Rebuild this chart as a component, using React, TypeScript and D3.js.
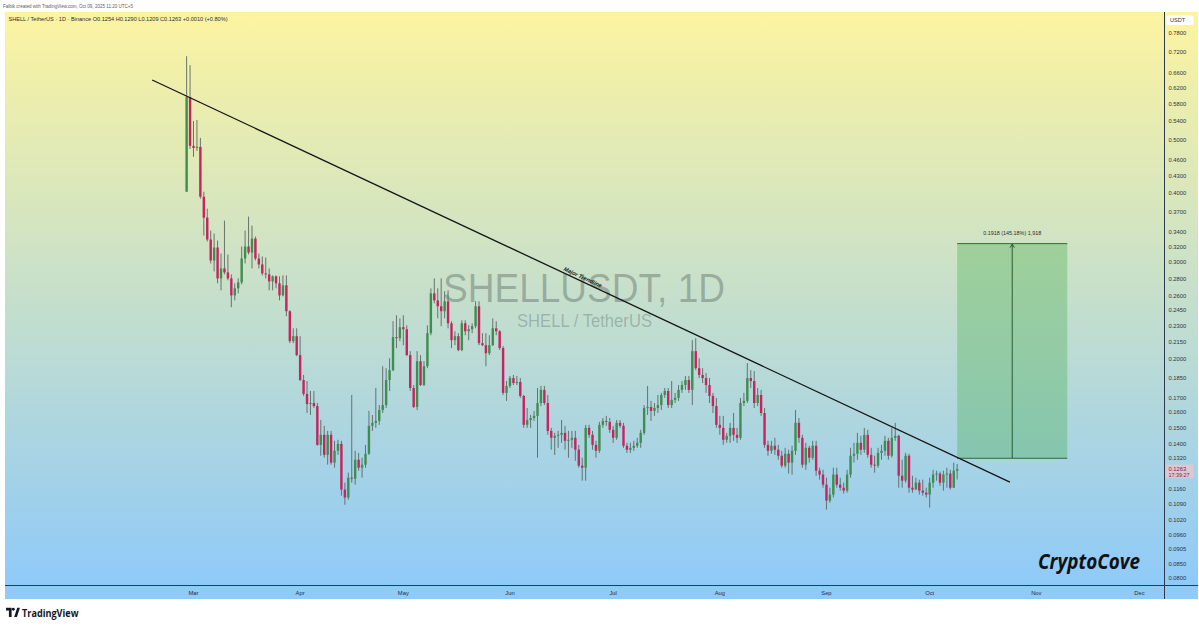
import React from "react";
import * as d3 from "d3";

// ---- data (daily candles, SHELL/USDT, Binance) ----
const firstCandleDate = "2025-02-27T00:00:00Z";
const firstOpen = 0.4023;
const closes = [
  0.5976, 0.4873, 0.4832, 0.4853, 0.3941, 0.3611, 0.3295, 0.3019, 0.3187, 0.2801,
  0.2920, 0.2872, 0.2801, 0.2609, 0.2687, 0.2755, 0.3044, 0.3200, 0.3121, 0.3308,
  0.3044, 0.2969, 0.2860, 0.2848, 0.2766, 0.2825, 0.2744, 0.2609, 0.2721, 0.2442,
  0.2155, 0.2200, 0.2033, 0.1832, 0.1729, 0.1657, 0.1664, 0.1643, 0.1397, 0.1457,
  0.1340, 0.1457, 0.1297, 0.1363, 0.1403, 0.1159, 0.1121, 0.1218, 0.1213, 0.1313,
  0.1270, 0.1286, 0.1346, 0.1513, 0.1532, 0.1544, 0.1616, 0.1650, 0.1832, 0.1909,
  0.2191, 0.2182, 0.2284, 0.2265, 0.2033, 0.1772, 0.1637, 0.1982, 0.1794, 0.1941,
  0.2228, 0.2631, 0.2555, 0.2493, 0.2442, 0.2545, 0.2322, 0.2164, 0.2200, 0.2076,
  0.2322, 0.2246, 0.2265, 0.2294, 0.2493, 0.2137, 0.2119, 0.2049, 0.2119, 0.2274,
  0.2246, 0.2093, 0.1736, 0.1787, 0.1847, 0.1809, 0.1817, 0.1714, 0.1519, 0.1550,
  0.1563, 0.1577, 0.1664, 0.1758, 0.1664, 0.1481, 0.1439, 0.1451, 0.1457, 0.1469,
  0.1421, 0.1427, 0.1439, 0.1369, 0.1281, 0.1270, 0.1500, 0.1457, 0.1397, 0.1363,
  0.1519, 0.1544, 0.1538, 0.1488, 0.1439, 0.1532, 0.1513, 0.1392, 0.1369, 0.1380,
  0.1392, 0.1409, 0.1469, 0.1630, 0.1637, 0.1610, 0.1630, 0.1650, 0.1721, 0.1750,
  0.1650, 0.1686, 0.1700, 0.1758, 0.1794, 0.1832, 0.1758, 0.2067, 0.1925, 0.1871,
  0.1847, 0.1794, 0.1714, 0.1643, 0.1519, 0.1500, 0.1427, 0.1451, 0.1500, 0.1457,
  0.1439, 0.1664, 0.1679, 0.1847, 0.1824, 0.1664, 0.1721, 0.1596, 0.1397, 0.1363,
  0.1392, 0.1369, 0.1335, 0.1281, 0.1346, 0.1297, 0.1363, 0.1532, 0.1439, 0.1286,
  0.1380, 0.1324, 0.1392, 0.1254, 0.1234, 0.1183, 0.1107, 0.1135, 0.1234, 0.1183,
  0.1168, 0.1154, 0.1234, 0.1335, 0.1346, 0.1409, 0.1369, 0.1457, 0.1340, 0.1286,
  0.1281, 0.1351, 0.1363, 0.1421, 0.1335, 0.1439, 0.1451, 0.1228, 0.1203, 0.1335,
  0.1168, 0.1159, 0.1193, 0.1154, 0.1144, 0.1135, 0.1193, 0.1234, 0.1239, 0.1193,
  0.1234, 0.1239, 0.1168, 0.1254, 0.1263,
];
const highs = [
  0.7088, 0.6827, 0.5407, 0.5429, 0.5038, 0.4023, 0.3748, 0.3420, 0.3378, 0.3281,
  0.3108, 0.3566, 0.3095, 0.2848, 0.2744, 0.2801, 0.3200, 0.3420, 0.3626, 0.3492,
  0.3336, 0.3108, 0.3069, 0.3057, 0.2920, 0.2836, 0.2836, 0.2825, 0.2836, 0.2836,
  0.2452, 0.2274, 0.2274, 0.2200, 0.1871, 0.1824, 0.1750, 0.1750, 0.1664, 0.1550,
  0.1513, 0.1481, 0.1481, 0.1421, 0.1427, 0.1421, 0.1193, 0.1244, 0.1721, 0.1363,
  0.1351, 0.1324, 0.1397, 0.1610, 0.1583, 0.1772, 0.1650, 0.1941, 0.1925, 0.2007,
  0.2342, 0.2401, 0.2371, 0.2401, 0.2303, 0.2067, 0.1794, 0.2067, 0.2033, 0.1982,
  0.2303, 0.2687, 0.2801, 0.2687, 0.2801, 0.2654, 0.2665, 0.2342, 0.2246, 0.2228,
  0.2351, 0.2351, 0.2303, 0.2322, 0.2545, 0.2545, 0.2228, 0.2228, 0.2209, 0.2371,
  0.2342, 0.2256, 0.2111, 0.1824, 0.1863, 0.1871, 0.1863, 0.1847, 0.1721, 0.1630,
  0.1583, 0.1610, 0.1772, 0.1787, 0.1787, 0.1721, 0.1500, 0.1469, 0.1481, 0.1550,
  0.1513, 0.1481, 0.1481, 0.1481, 0.1397, 0.1324, 0.1519, 0.1519, 0.1481, 0.1421,
  0.1538, 0.1563, 0.1577, 0.1563, 0.1513, 0.1550, 0.1550, 0.1532, 0.1409, 0.1409,
  0.1421, 0.1439, 0.1488, 0.1650, 0.1787, 0.1679, 0.1664, 0.1721, 0.1736, 0.1772,
  0.1772, 0.1824, 0.1736, 0.1794, 0.1824, 0.1863, 0.1863, 0.2164, 0.2182, 0.2007,
  0.1925, 0.1886, 0.1847, 0.1736, 0.1700, 0.1577, 0.1577, 0.1469, 0.1532, 0.1596,
  0.1500, 0.1700, 0.1736, 0.1966, 0.1909, 0.1901, 0.1772, 0.1758, 0.1630, 0.1421,
  0.1421, 0.1439, 0.1397, 0.1363, 0.1380, 0.1369, 0.1392, 0.1616, 0.1563, 0.1457,
  0.1409, 0.1392, 0.1421, 0.1421, 0.1270, 0.1259, 0.1218, 0.1168, 0.1270, 0.1270,
  0.1218, 0.1193, 0.1259, 0.1380, 0.1409, 0.1469, 0.1451, 0.1500, 0.1488, 0.1380,
  0.1335, 0.1380, 0.1397, 0.1451, 0.1439, 0.1500, 0.1532, 0.1457, 0.1313, 0.1351,
  0.1346, 0.1228, 0.1218, 0.1208, 0.1208, 0.1168, 0.1218, 0.1259, 0.1254, 0.1249,
  0.1254, 0.1270, 0.1259, 0.1297, 0.1290,
];
const lows = [
  0.4023, 0.4812, 0.4655, 0.4772, 0.3908, 0.3350, 0.3267, 0.2982, 0.2884, 0.2744,
  0.2665, 0.2848, 0.2778, 0.2483, 0.2555, 0.2631, 0.2732, 0.2982, 0.3095, 0.2920,
  0.3019, 0.2920, 0.2836, 0.2801, 0.2665, 0.2665, 0.2687, 0.2555, 0.2598, 0.2391,
  0.2137, 0.2137, 0.2024, 0.1824, 0.1714, 0.1596, 0.1583, 0.1630, 0.1392, 0.1335,
  0.1324, 0.1286, 0.1286, 0.1270, 0.1340, 0.1130, 0.1088, 0.1111, 0.1193, 0.1183,
  0.1254, 0.1218, 0.1270, 0.1340, 0.1481, 0.1500, 0.1519, 0.1596, 0.1630, 0.1750,
  0.1901, 0.2093, 0.2155, 0.2119, 0.2024, 0.1750, 0.1630, 0.1616, 0.1787, 0.1787,
  0.1925, 0.2209, 0.2524, 0.2371, 0.2294, 0.2371, 0.2274, 0.2093, 0.2119, 0.2067,
  0.2067, 0.2209, 0.2164, 0.2228, 0.2274, 0.2119, 0.2111, 0.1941, 0.2033, 0.2111,
  0.2209, 0.2076, 0.1721, 0.1679, 0.1772, 0.1794, 0.1794, 0.1700, 0.1500, 0.1500,
  0.1500, 0.1544, 0.1324, 0.1643, 0.1650, 0.1457, 0.1369, 0.1340, 0.1380, 0.1409,
  0.1369, 0.1324, 0.1380, 0.1307, 0.1270, 0.1203, 0.1203, 0.1439, 0.1369, 0.1324,
  0.1351, 0.1500, 0.1513, 0.1469, 0.1409, 0.1427, 0.1500, 0.1380, 0.1351, 0.1351,
  0.1363, 0.1380, 0.1380, 0.1457, 0.1583, 0.1544, 0.1577, 0.1596, 0.1616, 0.1700,
  0.1630, 0.1630, 0.1664, 0.1679, 0.1736, 0.1758, 0.1736, 0.1650, 0.1909, 0.1847,
  0.1809, 0.1736, 0.1664, 0.1596, 0.1500, 0.1457, 0.1397, 0.1409, 0.1409, 0.1421,
  0.1409, 0.1427, 0.1643, 0.1664, 0.1772, 0.1630, 0.1643, 0.1577, 0.1380, 0.1335,
  0.1346, 0.1340, 0.1313, 0.1270, 0.1270, 0.1239, 0.1234, 0.1340, 0.1409, 0.1270,
  0.1259, 0.1297, 0.1313, 0.1228, 0.1208, 0.1168, 0.1066, 0.1097, 0.1121, 0.1168,
  0.1154, 0.1140, 0.1144, 0.1218, 0.1297, 0.1313, 0.1340, 0.1351, 0.1324, 0.1270,
  0.1244, 0.1270, 0.1313, 0.1335, 0.1313, 0.1324, 0.1421, 0.1168, 0.1168, 0.1193,
  0.1144, 0.1144, 0.1159, 0.1135, 0.1130, 0.1121, 0.1075, 0.1168, 0.1203, 0.1178,
  0.1154, 0.1168, 0.1159, 0.1168, 0.1209,
];

const priceTicks = [
  0.78, 0.72, 0.66, 0.62, 0.58, 0.54, 0.5, 0.46, 0.43, 0.4, 0.37, 0.34, 0.32, 0.3,
  0.28, 0.26, 0.245, 0.23, 0.215, 0.2, 0.185, 0.17, 0.16, 0.15, 0.14, 0.132,
  0.116, 0.109, 0.102, 0.096, 0.0905, 0.085, 0.08,
];
const monthStarts = [
  "2025-03-01", "2025-04-01", "2025-05-01", "2025-06-01", "2025-07-01",
  "2025-08-01", "2025-09-01", "2025-10-01", "2025-11-01", "2025-12-01",
];
const monthLabels = ["Mar", "Apr", "May", "Jun", "Jul", "Aug", "Sep", "Oct", "Nov", "Dec"];

const trendStart = { date: "2025-02-17T00:00:00Z", price: 0.6417 };
const trendEnd = { date: "2025-10-24T08:00:00Z", price: 0.1196 };
const rangeBox = { from: "2025-10-09T00:00:00Z", to: "2025-11-10T00:00:00Z", low: 0.1321, high: 0.3239 };
const rangeLabel = "0.1918 (145.18%) 1,918";
const lastPrice = 0.1263;
const lastPriceText = "0.1263";
const countdownText = "17:39:27";
const headerText = "Falbik created with TradingView.com, Oct 09, 2025 11:20 UTC+5";
const legendText = "SHELL / TetherUS · 1D · Binance  O0.1254  H0.1290  L0.1209  C0.1263  +0.0010 (+0.80%)";

const UI = "'Liberation Sans', Arial, sans-serif";

export default function App() {
  const W = 1199;
  const H = 627;
  const left = 5, top = 12, plotRight = 1164.5, plotBottom = 585.5, right = 1198, axisBottom = 599;

  const x = d3
    .scaleUtc()
    .domain([new Date("2025-03-01T00:00:00Z"), new Date("2025-12-01T00:00:00Z")])
    .range([193.5, 1139.5]);
  const y = d3.scaleLog().domain([0.78, 0.08]).range([33.3, 578.3]);

  const start = new Date(firstCandleDate);
  const candles = closes.map((c, i) => ({
    date: d3.utcDay.offset(start, i),
    open: i === 0 ? firstOpen : closes[i - 1],
    close: c,
    high: highs[i],
    low: lows[i],
  }));

  const bodyW = 2.4;
  const up = "#3e8e50";
  const down = "#c5245e";
  const wick = "#5b6862";

  const tx1 = x(new Date(trendStart.date));
  const ty1 = y(trendStart.price);
  const tx2 = x(new Date(trendEnd.date));
  const ty2 = y(trendEnd.price);
  const rad = Math.atan2(ty2 - ty1, tx2 - tx1);
  const ang = (rad * 180) / Math.PI;
  const mx = tx1 + (tx2 - tx1) * 0.5;
  const my = ty1 + (ty2 - ty1) * 0.5;
  const lx = mx + Math.sin(rad) * 2.2;
  const ly = my - Math.cos(rad) * 2.2;

  const bx1 = x(new Date(rangeBox.from));
  const bx2 = x(new Date(rangeBox.to));
  const byTop = y(rangeBox.high);
  const byBot = y(rangeBox.low);
  const bxm = (bx1 + bx2) / 2;

  const lp = y(lastPrice);

  return (
    <svg width={W} height={H} style={{ position: "absolute", left: 0, top: 0, display: "block" }}>
      <defs>
        <linearGradient id="bg" x1="0" y1={top} x2="0" y2={plotBottom} gradientUnits="userSpaceOnUse">
          <stop offset="0" stopColor="#fcf4a0" />
          <stop offset="1" stopColor="#8fcaf8" />
        </linearGradient>
      </defs>
      <rect x={0} y={0} width={W} height={H} fill="#ffffff" />
      <rect x={left} y={top} width={right - left} height={plotBottom - top} fill="url(#bg)" />
      <rect x={left} y={plotBottom} width={right - left} height={axisBottom - plotBottom} fill="#90caf9" />

      {/* header */}
      <text x={3} y={8} fontFamily={UI} fontSize={5.2} fill="#5e5e5e" textLength={130} lengthAdjust="spacingAndGlyphs">
        {headerText}
      </text>
      <text x={8.5} y={21} fontFamily={UI} fontSize={5.4} fill="#2a2e39" textLength={219} lengthAdjust="spacingAndGlyphs">
        {legendText}
      </text>

      {/* watermark */}
      <text x={584} y={301.5} textAnchor="middle" fontFamily={UI} fontSize={40} fill="#4a5656" fillOpacity={0.38} textLength={282} lengthAdjust="spacingAndGlyphs">
        SHELLUSDT, 1D
      </text>
      <text x={584.5} y={327} textAnchor="middle" fontFamily={UI} fontSize={18} fill="#4a5656" fillOpacity={0.33} textLength={135} lengthAdjust="spacingAndGlyphs">
        SHELL / TetherUS
      </text>

      {/* range box */}
      <rect x={bx1} y={byTop} width={bx2 - bx1} height={byBot - byTop} fill="#4caf50" fillOpacity={0.36} />
      <line x1={bx1} x2={bx2} y1={byTop} y2={byTop} stroke="#2e6b34" strokeWidth={1} />
      <line x1={bx1} x2={bx2} y1={byBot} y2={byBot} stroke="#2e6b34" strokeWidth={1} />
      <line x1={bxm} x2={bxm} y1={byBot} y2={byTop + 0.5} stroke="#1f4f26" strokeWidth={0.9} />
      <path d={`M${bxm - 2.2},${byTop + 4} L${bxm},${byTop + 0.5} L${bxm + 2.2},${byTop + 4}`} fill="none" stroke="#1f4f26" strokeWidth={0.9} />
      <text x={bxm} y={byTop - 9} textAnchor="middle" fontFamily={UI} fontSize={5.2} fill="#2a2e39" textLength={58} lengthAdjust="spacingAndGlyphs">
        {rangeLabel}
      </text>

      {/* candles */}
      <g>
        {candles.map((d, i) => {
          const cx = x(d.date);
          const isUp = d.close >= d.open;
          const yt = y(Math.max(d.open, d.close));
          const yb = y(Math.min(d.open, d.close));
          return (
            <g key={i}>
              <line x1={cx} x2={cx} y1={y(d.high)} y2={y(d.low)} stroke={wick} strokeWidth={0.9} />
              <rect x={cx - bodyW / 2} y={yt} width={bodyW} height={Math.max(0.9, yb - yt)} fill={isUp ? up : down} />
            </g>
          );
        })}
      </g>

      {/* trendline */}
      <line x1={tx1} y1={ty1} x2={tx2} y2={ty2} stroke="#151515" strokeWidth={1.3} />
      <text
        transform={`translate(${lx},${ly}) rotate(${ang})`}
        textAnchor="middle"
        fontFamily={UI}
        fontSize={5.6}
        fontWeight="bold"
        fontStyle="italic"
        fill="#1a1a1a"
      >
        Major Trendline
      </text>

      {/* axes frame */}
      <line x1={left} x2={right} y1={plotBottom} y2={plotBottom} stroke="#2b3a4d" strokeWidth={1} />
      <line x1={plotRight} x2={plotRight} y1={top} y2={axisBottom} stroke="#2b3a4d" strokeWidth={1} />

      {/* price axis */}
      <rect x={1166.5} y={15.5} width={27} height={9.5} rx={1.5} fill="#ffffff" />
      <text x={1170} y={22.3} fontFamily={UI} fontSize={5.6} fill="#2a2e39">USDT</text>
      {priceTicks.map((p) => (
        <text key={p} x={1168.5} y={y(p)} dy="0.35em" fontFamily={UI} fontSize={5.8} fill="#2f3440">
          {p.toFixed(4)}
        </text>
      ))}
      <rect x={1165.5} y={lp - 4.5} width={28} height={13.5} fill="#dcc7d3" />
      <text x={1168.5} y={lp} dy="0.35em" fontFamily={UI} fontSize={5.8} fill="#7a2846">{lastPriceText}</text>
      <text x={1168.5} y={lp + 5.6} dy="0.35em" fontFamily={UI} fontSize={5.4} fill="#7a2846">{countdownText}</text>

      {/* time axis */}
      {monthStarts.map((m, i) => (
        <text key={m} x={x(new Date(m + "T00:00:00Z"))} y={593} dy="0.35em" textAnchor="middle" fontFamily={UI} fontSize={5.8} fill="#1c2f4a">
          {monthLabels[i]}
        </text>
      ))}

      {/* CryptoCove */}
      <text x={1038} y={569} fontFamily="'Open Sans', 'DejaVu Sans', sans-serif" fontSize={21} fontWeight="bold" fontStyle="italic" fill="#111111" textLength={102} lengthAdjust="spacingAndGlyphs">
        CryptoCove
      </text>

      {/* TradingView logo */}
      <g fill="#131722">
        <path d="M6,607.8 H11.6 V617 H8.9 V610.4 H6 Z" />
        <circle cx={13.3} cy={609.3} r={1.45} />
        <path d="M14.2,617 L17.2,607.8 H19.9 L16.9,617 Z" />
      </g>
      <text x={22} y={617} fontFamily="'Open Sans', 'Liberation Sans', sans-serif" fontSize={10.5} fontWeight="bold" fill="#131722" textLength={56.5} lengthAdjust="spacingAndGlyphs">
        TradingView
      </text>
    </svg>
  );
}
